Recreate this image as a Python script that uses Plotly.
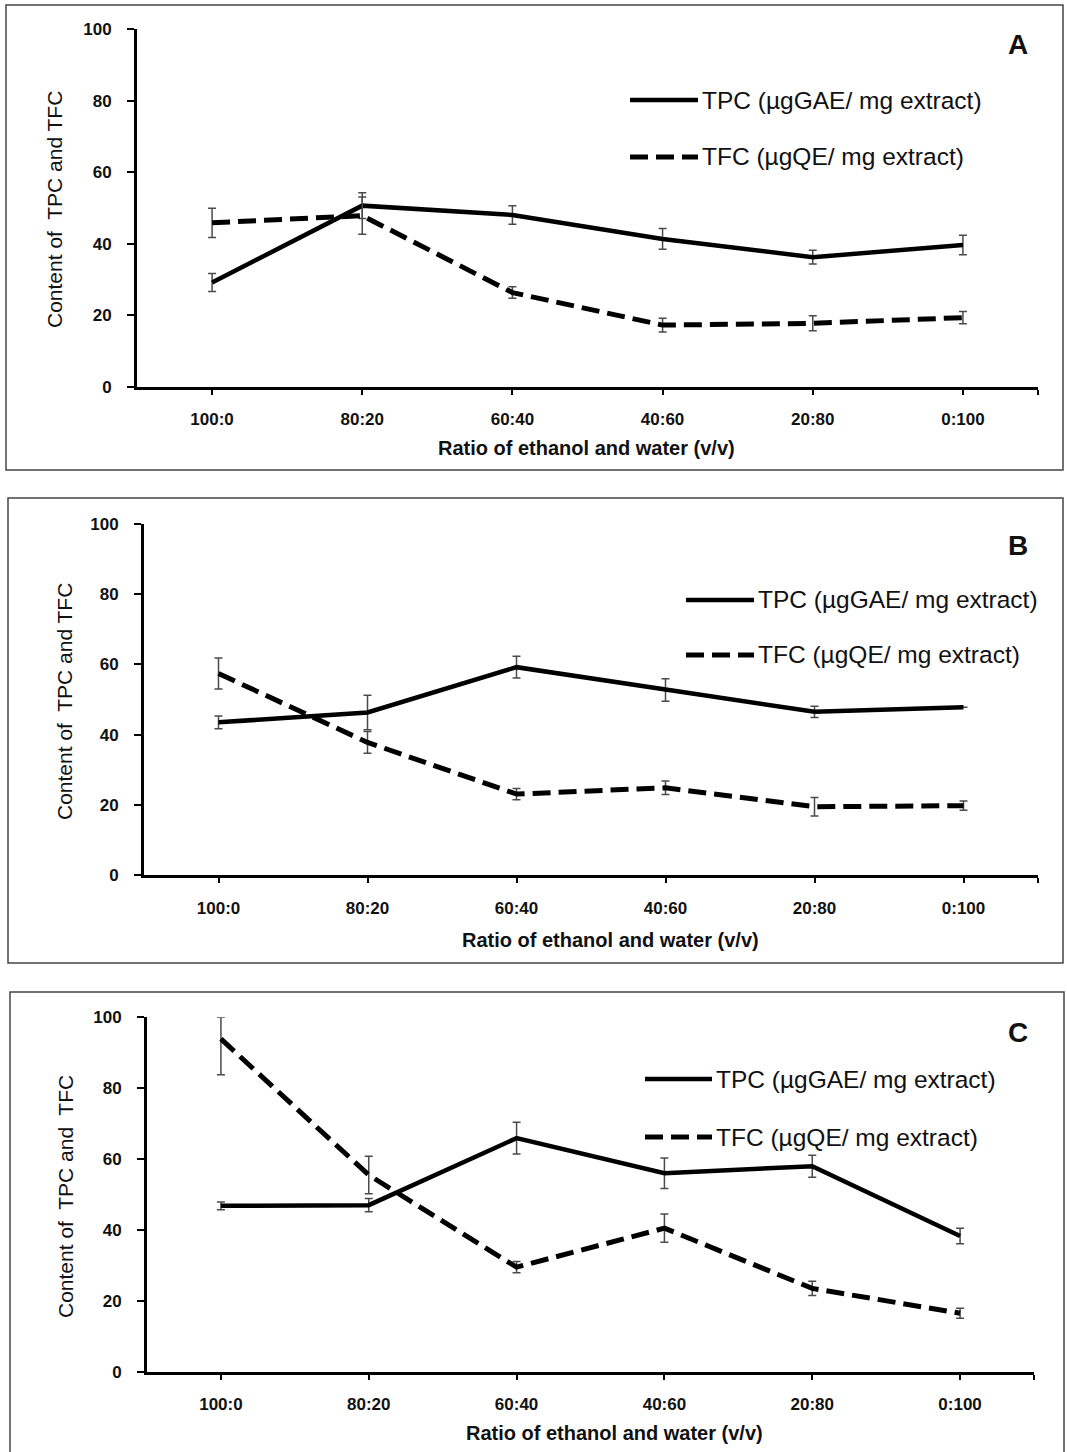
import plotly.graph_objects as go

W, H = 1067, 1452

categories = ["100:0", "80:20", "60:40", "40:60", "20:80", "0:100"]
y_ticks = [0, 20, 40, 60, 80, 100]

series_names = ["TPC (µgGAE/ mg extract)", "TFC (µgQE/ mg extract)"]

A_tpc = [29.2, 50.7, 48.1, 41.4, 36.3, 39.7]
A_tpc_err = [2.5, 3.6, 2.6, 2.9, 1.9, 2.7]
A_tfc = [45.9, 47.9, 26.4, 17.3, 17.8, 19.4]
A_tfc_err = [4.1, 5.2, 1.6, 1.9, 2.1, 1.7]

B_tpc = [43.5, 46.3, 59.2, 52.7, 46.5, 47.8]
B_tpc_err = [1.8, 4.9, 3.1, 3.2, 1.6, 0.0]
B_tfc = [57.4, 37.8, 23.1, 24.9, 19.5, 19.8]
B_tfc_err = [4.4, 3.1, 1.6, 1.9, 2.6, 1.3]

C_tpc = [46.8, 47.0, 65.9, 56.0, 58.0, 38.3]
C_tpc_err = [1.1, 1.9, 4.5, 4.3, 3.1, 2.2]
C_tfc = [93.9, 55.5, 29.5, 40.5, 23.5, 16.5]
C_tfc_err_plus = [6.1, 5.3, 1.6, 4.0, 2.0, 1.4]
C_tfc_err_minus = [10.1, 5.3, 1.6, 4.0, 2.0, 1.4]

panel_labels = ["A", "B", "C"]
y_titles = ["Content of  TPC and TFC", "Content of  TPC and TFC", "Content of  TPC and  TFC"]
x_title = "Ratio of ethanol and water (v/v)"

# pixel layout for each panel
panels = [
    dict(x0=137, x1=1038, y0=387, y100=29.3, box=(6, 5, 1063, 470),
         leg_x0=630, leg_x1=698, leg_y=(100, 157), lab=(1018, 45),
         ytitle=(55, 210), xtitle=(586, 448),
         tpc=A_tpc, tpce=A_tpc_err, tpcem=A_tpc_err, tfc=A_tfc, tfce=A_tfc_err, tfcem=A_tfc_err),
    dict(x0=144, x1=1038, y0=875.3, y100=523.7, box=(8, 498, 1063, 963),
         leg_x0=686, leg_x1=754, leg_y=(600, 655), lab=(1018, 545),
         ytitle=(64, 702), xtitle=(610, 940),
         tpc=B_tpc, tpce=B_tpc_err, tpcem=B_tpc_err, tfc=B_tfc, tfce=B_tfc_err, tfcem=B_tfc_err),
    dict(x0=147, x1=1034, y0=1371.7, y100=1017.3, box=(10, 992, 1064, 1460),
         leg_x0=645, leg_x1=712, leg_y=(1079, 1137), lab=(1018, 1032),
         ytitle=(65, 1197), xtitle=(614, 1433),
         tpc=C_tpc, tpce=C_tpc_err, tpcem=C_tpc_err, tfc=C_tfc, tfce=C_tfc_err_plus, tfcem=C_tfc_err_minus),
]

FONT = "Arial, Liberation Sans, sans-serif"
ERR_COLOR = "#4a4a4a"

def px(x):
    return x / W

def py(y):
    return 1 - y / H

fig = go.Figure()
shapes = []
annotations = []
xpos = list(range(len(categories)))

for i, p in enumerate(panels):
    n = "" if i == 0 else str(i + 1)
    xa, ya = "x" + n, "y" + n
    for vals, ep, em, dash, w in [(p["tpc"], p["tpce"], p["tpcem"], "solid", 4.5),
                                   (p["tfc"], p["tfce"], p["tfcem"], "18px,8px", 5)]:
        fig.add_trace(go.Scatter(
            x=xpos, y=vals, mode="lines", xaxis=xa, yaxis=ya, showlegend=False,
            line=dict(color="black", width=w, dash=dash),
            error_y=dict(type="data", array=ep, arrayminus=em, symmetric=False,
                         color=ERR_COLOR, thickness=1.5, width=4),
        ))
    xkey = "xaxis" + n
    ykey = "yaxis" + n
    fig.layout[xkey] = dict(
        domain=[px(p["x0"]), px(p["x1"])], anchor=ya, range=[-0.5, 5.5],
        tickvals=xpos + [5.5], ticktext=categories + [""],
        showline=True, linecolor="black", linewidth=3, ticks="outside",
        ticklen=5, tickwidth=2, tickcolor="black", showgrid=False, zeroline=False,
        tickfont=dict(family=FONT, size=17, color="#111", weight="bold"),
        ticklabelstandoff=10, automargin=False,
    )
    fig.layout[ykey] = dict(
        domain=[py(p["y0"]), py(p["y100"])], anchor=xa, range=[0, 100],
        tickvals=y_ticks, showline=True, linecolor="black", linewidth=3,
        ticks="outside", ticklen=7, tickwidth=2, tickcolor="black",
        showgrid=False, zeroline=False,
        tickfont=dict(family=FONT, size=17, color="#111", weight="bold"),
        ticklabelstandoff=12, automargin=False,
    )
    bx0, by0, bx1, by1 = p["box"]
    shapes.append(dict(type="rect", xref="paper", yref="paper",
                       x0=px(bx0), x1=px(bx1), y0=py(by1), y1=py(by0),
                       line=dict(color="#444", width=1.5)))
    # legend samples
    for k, (name, dash, w) in enumerate([(series_names[0], "solid", 4.5),
                                         (series_names[1], "18px,8px", 5)]):
        ly = p["leg_y"][k]
        shapes.append(dict(type="line", xref="paper", yref="paper",
                           x0=px(p["leg_x0"]), x1=px(p["leg_x1"]), y0=py(ly), y1=py(ly),
                           line=dict(color="black", width=w, dash=dash)))
        annotations.append(dict(xref="paper", yref="paper", x=px(p["leg_x1"] + 2), y=py(ly),
                                xanchor="left", yanchor="middle", showarrow=False,
                                text=name, font=dict(family=FONT, size=24.5, color="#111")))
    annotations.append(dict(xref="paper", yref="paper", x=px(p["lab"][0]), y=py(p["lab"][1]),
                            xanchor="center", yanchor="middle", showarrow=False,
                            text=panel_labels[i],
                            font=dict(family=FONT, size=28, color="#111", weight="bold")))
    annotations.append(dict(xref="paper", yref="paper", x=px(p["ytitle"][0]), y=py(p["ytitle"][1]),
                            xanchor="center", yanchor="middle", showarrow=False, textangle=-90,
                            text=y_titles[i].replace("  ", "&nbsp; "),
                            font=dict(family=FONT, size=21, color="#111")))
    annotations.append(dict(xref="paper", yref="paper", x=px(p["xtitle"][0]), y=py(p["xtitle"][1]),
                            xanchor="center", yanchor="middle", showarrow=False,
                            text=x_title,
                            font=dict(family=FONT, size=20, color="#111", weight="bold")))

fig.update_layout(
    width=W, height=H, margin=dict(l=0, r=0, t=0, b=0, autoexpand=False),
    paper_bgcolor="white", plot_bgcolor="white",
    shapes=shapes, annotations=annotations, showlegend=False,
)

fig.write_html(
    "out.html",
    config={"displayModeBar": False, "staticPlot": True},
    post_script=(
        "document.documentElement.style.margin='0';"
        "document.body.style.margin='0';document.body.style.padding='0';"
        "var d=document.getElementById('{plot_id}');"
        "d.style.position='fixed';d.style.left='0px';d.style.top='0px';"
    ),
)
